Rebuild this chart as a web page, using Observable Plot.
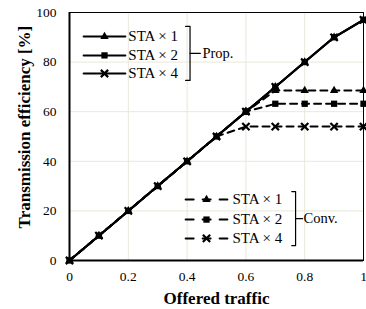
<!DOCTYPE html>
<html><head><meta charset="utf-8">
<script src="https://cdn.jsdelivr.net/npm/d3@7"></script>
<script src="https://cdn.jsdelivr.net/npm/@observablehq/plot@0.6"></script>
<style>body{margin:0;background:#fff} svg text{font-family:'Liberation Serif','DejaVu Serif',serif !important}</style>
</head><body><div id="chart"></div>
<script>
const traffic = [0, 0.1, 0.2, 0.3, 0.4, 0.5, 0.6, 0.7, 0.8, 0.9, 1.0];
const propSta1 = [0, 10, 20, 30, 40, 50, 60, 70, 80, 90, 97];
const propSta2 = [0, 10, 20, 30, 40, 50, 60, 70, 80, 90, 97];
const propSta4 = [0, 10, 20, 30, 40, 50, 60, 70, 80, 90, 97];
const convSta1 = [0, 10, 20, 30, 40, 50, 60, 68.5, 68.5, 68.5, 68.5];
const convSta2 = [0, 10, 20, 30, 40, 50, 60, 63.2, 63.2, 63.2, 63.2];
const convSta4 = [0, 10, 20, 30, 40, 50, 54, 54, 54, 54, 54];
const seriesNames = ["STA × 1", "STA × 2", "STA × 4"];
const groupNames = ["Prop.", "Conv."];
const xTicks = [0, 0.2, 0.4, 0.6, 0.8, 1];
const xTickLabels = ["0", "0.2", "0.4", "0.6", "0.8", "1"];
const yTicks = [0, 20, 40, 60, 80, 100];
const xTitle = "Offered traffic";
const yTitle = "Transmission efficiency [%]";

const symbols = ["triangle2", "square2", "times"];
const toRows = (vals, name, group) => traffic.map((t, i) => ({x: t, y: vals[i], name, group}));
const prop = [propSta1, propSta2, propSta4].map((v, k) => toRows(v, seriesNames[k], "Prop."));
const conv = [convSta1, convSta2, convSta4].map((v, k) => toRows(v, seriesNames[k], "Conv."));

const font = "'Liberation Serif', 'DejaVu Serif', serif";

// legend layout (in data units)
const topRowsY = [90.3, 82.7, 75.4];
const botRowsY = [24.6, 16.5, 8.9];

function dotMark(data, k, extra = {}) {
  const s = symbols[k];
  if (s === "times") return Plot.dot(data, {x: "x", y: "y", symbol: s, r: 3.4, stroke: "black", strokeWidth: 2.2, ...extra});
  return Plot.dot(data, {x: "x", y: "y", symbol: s, r: 4, fill: "black", stroke: "none", ...extra});
}

const marks = [
  Plot.gridX(xTicks, {stroke: "#e9e8d8", strokeOpacity: 1, strokeWidth: 1}),
  Plot.gridY(yTicks, {stroke: "#e9e8d8", strokeOpacity: 1, strokeWidth: 1}),
  Plot.frame({stroke: "black", strokeWidth: 1}),
  Plot.ruleX([0], {stroke: "black", strokeWidth: 2}),
  Plot.ruleY([0], {stroke: "black", strokeWidth: 2}),
];
conv.forEach((d, k) => {
  marks.push(Plot.line(d, {x: "x", y: "y", stroke: "black", strokeWidth: 2, strokeDasharray: "7,5"}));
});
conv.forEach((d, k) => marks.push(dotMark(d.filter(r => r.x >= 0.6), k)));
prop.forEach((d, k) => {
  marks.push(Plot.line(d, {x: "x", y: "y", stroke: "black", strokeWidth: 2}));
});
[2, 0, 1].forEach(k => marks.push(dotMark(prop[k], k)));

seriesNames.forEach((name, k) => {
  const yT = topRowsY[k];
  marks.push(Plot.line([{x: 0.048, y: yT}, {x: 0.19, y: yT}], {x: "x", y: "y", stroke: "black", strokeWidth: 2}));
  marks.push(dotMark([{x: 0.119, y: yT}], k));
  marks.push(Plot.text([name], {x: 0.2, y: yT, text: d => d, textAnchor: "start", fontSize: 15, fontFamily: font, fill: "black"}));
  const yB = botRowsY[k];
  marks.push(Plot.line([{x: 0.395, y: yB}, {x: 0.537, y: yB}], {x: "x", y: "y", stroke: "black", strokeWidth: 2, strokeDasharray: "8,9"}));
  marks.push(dotMark([{x: 0.466, y: yB}], k));
  marks.push(Plot.text([name], {x: 0.554, y: yB, text: d => d, textAnchor: "start", fontSize: 15, fontFamily: font, fill: "black"}));
});
function bracket(x0, x1, xt, yTop, yBot, label, lx) {
  const yMid = (yTop + yBot) / 2;
  marks.push(Plot.line([{x: x0, y: yTop}, {x: x1, y: yTop}, {x: x1, y: yBot}, {x: x0, y: yBot}], {x: "x", y: "y", stroke: "black", strokeWidth: 1.2}));
  marks.push(Plot.line([{x: x1, y: yMid}, {x: xt, y: yMid}], {x: "x", y: "y", stroke: "black", strokeWidth: 1.2}));
  marks.push(Plot.text([label], {x: lx, y: yMid, text: d => d, textAnchor: "start", fontSize: 14.5, fontFamily: font, fill: "black"}));
}
bracket(0.395, 0.41, 0.445, 94.4, 72.6, groupNames[0], 0.452);
bracket(0.756, 0.769, 0.793, 27.8, 6.0, groupNames[1], 0.796);

const chart = Plot.plot({
  width: 366,
  height: 309,
  marginLeft: 69,
  marginRight: 3,
  marginTop: 12,
  marginBottom: 49,
  style: {fontFamily: font, fontSize: "13px", color: "black", background: "white"},
  x: {domain: [0, 1], label: null},
  y: {domain: [0, 100], label: null},
  marks: [
    ...marks,
    Plot.axisX(xTicks, {tickSize: 0, tickPadding: 11, fontSize: 13.5, fontFamily: font, tickFormat: (d) => xTickLabels[xTicks.indexOf(d)]}),
    Plot.axisY(yTicks, {tickSize: 0, tickPadding: 13, fontSize: 13.5, fontFamily: font}),
    Plot.text([xTitle], {x: 0.5, y: -15.3, text: d => d, fontSize: 17, fontWeight: "bold", fontFamily: font, lineAnchor: "middle", clip: false}),
    Plot.text([yTitle], {x: -0.153, y: 53.8, text: d => d, rotate: -90, fontSize: 17, fontWeight: "bold", fontFamily: font, lineAnchor: "middle", clip: false})
  ]
});
document.getElementById("chart").appendChild(chart);
</script></body></html>
